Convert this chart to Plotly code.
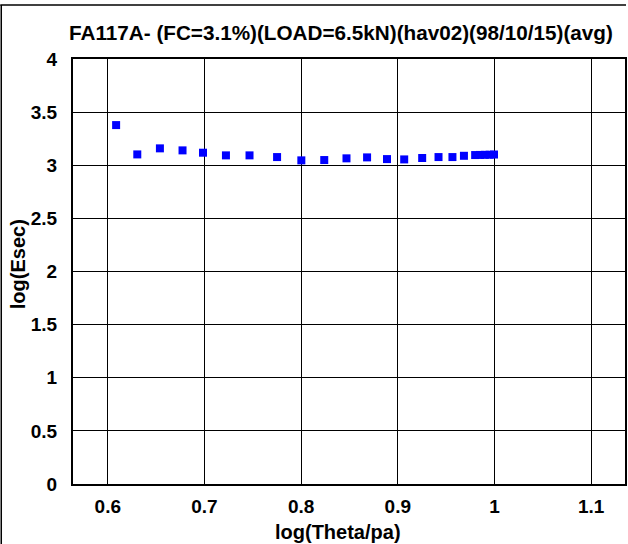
import plotly.graph_objects as go

# Data
log_theta_pa = [0.6086, 0.6305, 0.6539, 0.6773, 0.6985, 0.7222, 0.7466, 0.7751,
                0.8002, 0.8239, 0.8469, 0.8682, 0.8888, 0.9066, 0.9252, 0.9421,
                0.9565, 0.9684, 0.9800, 0.9850, 0.9900, 0.9950, 0.9995]
log_esec = [3.378, 3.102, 3.159, 3.140, 3.118, 3.093, 3.093, 3.077,
            3.046, 3.049, 3.065, 3.074, 3.058, 3.055, 3.068, 3.077,
            3.077, 3.089, 3.096, 3.097, 3.098, 3.099, 3.101]

x_ticks = [0.6, 0.7, 0.8, 0.9, 1.0, 1.1]
x_tick_text = ["0.6", "0.7", "0.8", "0.9", "1", "1.1"]
y_ticks = [0, 0.5, 1, 1.5, 2, 2.5, 3, 3.5, 4]
y_tick_text = ["0", "0.5", "1", "1.5", "2", "2.5", "3", "3.5", "4"]

title_text = "FA117A- (FC=3.1%)(LOAD=6.5kN)(hav02)(98/10/15)(avg)"
x_title = "log(Theta/pa)"
y_title = "log(Esec)"

W, H = 628, 544
ML, MR, MT, MB = 73, 1, 59, 60
PW = W - ML - MR
PH = H - MT - MB


def px_x(p):
    return (p - ML) / PW


def px_y(p):
    return (H - MB - p) / PH


FONT = "Arial"
BOLD = dict(family=FONT, color="black", weight="bold")

fig = go.Figure()
fig.add_trace(go.Scatter(
    x=log_theta_pa, y=log_esec, mode="markers",
    marker=dict(symbol="square", size=8, color="#0000FF", line=dict(width=0)),
    showlegend=False, cliponaxis=False,
))

fig.update_layout(
    width=W, height=H,
    margin=dict(l=ML, r=MR, t=MT, b=MB, pad=0),
    paper_bgcolor="white", plot_bgcolor="white",
    font=dict(family=FONT, size=19, color="black", weight="bold"),
    showlegend=False,
    xaxis=dict(
        range=[0.564, 1.135], tickvals=x_ticks, ticktext=x_tick_text,
        showgrid=True, gridcolor="black", gridwidth=1,
        showline=True, linecolor="black", linewidth=2, mirror=True,
        ticks="", zeroline=False, ticklabelstandoff=4,
        tickfont=dict(size=19, **BOLD),
    ),
    yaxis=dict(
        range=[0, 4], tickvals=y_ticks, ticktext=y_tick_text,
        showgrid=True, gridcolor="black", gridwidth=1,
        showline=True, linecolor="black", linewidth=2, mirror=True,
        ticks="", zeroline=False, ticklabelstandoff=10,
        tickfont=dict(size=19, **BOLD),
    ),
    annotations=[
        dict(text=title_text, xref="paper", yref="paper",
             x=px_x(342), y=px_y(33), xanchor="center", yanchor="middle",
             showarrow=False, font=dict(size=20.7, **BOLD)),
        dict(text=x_title, xref="paper", yref="paper",
             x=px_x(339), y=px_y(532), xanchor="center", yanchor="middle",
             showarrow=False, font=dict(size=20, **BOLD)),
        dict(text=y_title, xref="paper", yref="paper",
             x=px_x(18), y=px_y(264), xanchor="center", yanchor="middle",
             textangle=-90,
             showarrow=False, font=dict(size=20, **BOLD)),
    ],
    shapes=[
        dict(type="line", xref="paper", yref="paper",
             x0=px_x(0), x1=px_x(W), y0=px_y(5), y1=px_y(5),
             line=dict(color="black", width=1.5)),
        dict(type="line", xref="paper", yref="paper",
             x0=px_x(1), x1=px_x(1), y0=px_y(5), y1=px_y(H),
             line=dict(color="black", width=1.5)),
    ],
)

fig.write_html("out.html")
